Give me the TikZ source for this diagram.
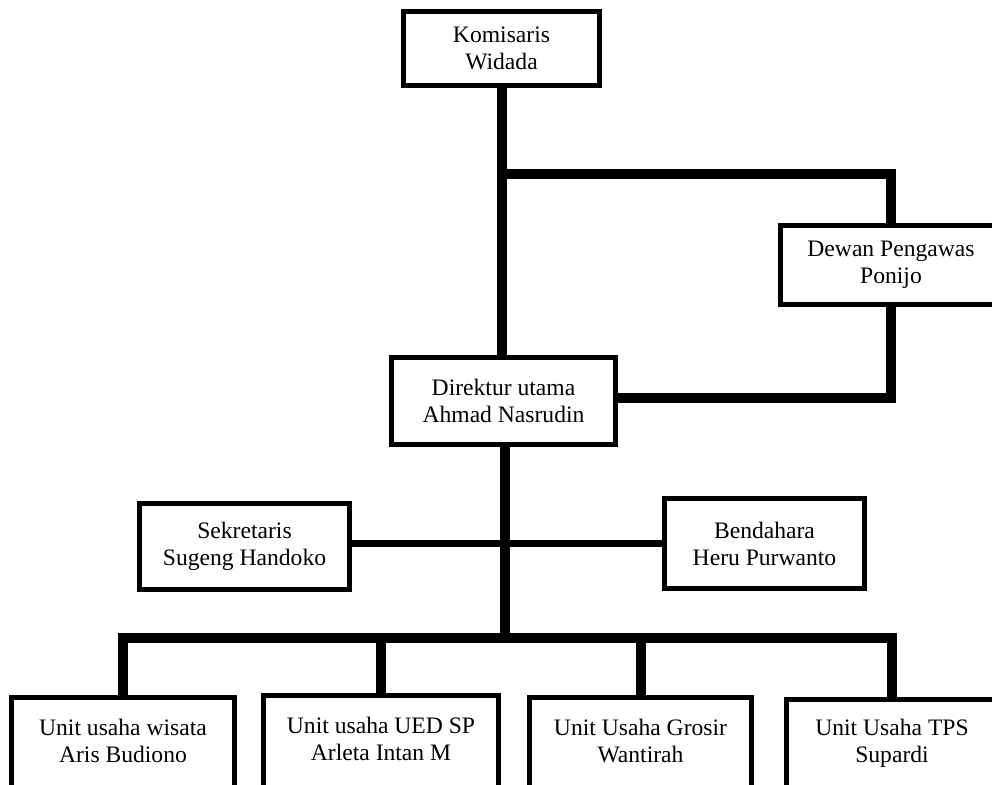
\documentclass[tikz,border=0pt]{standalone}
\usepackage{fontspec}
\setmainfont{Liberation Serif}
\begin{document}
\begin{tikzpicture}[x=0.75pt,y=-0.75pt,
  box/.style={draw, line width=4pt, fill=white, align=center,
    font=\fontsize{17.7}{20.3}\selectfont, inner sep=0pt},
  unitbox/.style={draw, line width=4pt, fill=white, inner sep=0pt,
    minimum height=83pt},
  unittext/.style={align=center, font=\fontsize{17.7}{20.3}\selectfont,
    inner sep=0pt, yshift=9pt},
  link/.style={line width=7.5pt, line join=miter},
  thinlink/.style={line width=5.8pt}]
\useasboundingbox (0,0) rectangle (992,785);
\clip (0,0) rectangle (992,785);
% boxes
\node[box, minimum width=146.8pt, minimum height=55.3pt] (kom) at (501.5,48.5) {Komisaris\\Widada};
\node[box, minimum width=165.5pt, minimum height=59pt] (dew) at (891,265) {Dewan Pengawas\\Ponijo};
\node[box, minimum width=167.8pt, minimum height=65pt] (dir) at (503.5,401) {Direktur utama\\Ahmad Nasrudin};
\node[box, minimum width=157.3pt, minimum height=64.3pt] (sek) at (244.5,546.5) {Sekretaris\\Sugeng Handoko};
\node[box, minimum width=149.8pt, minimum height=67.3pt] (ben) at (764.5,543.5) {Bendahara\\Heru Purwanto};
\node[unitbox, minimum width=167pt] (u1) at (123,753) {};
\node[unittext] (t1) at (u1.center) {Unit usaha wisata\\Aris Budiono};
\node[unitbox, minimum width=176pt] (u2) at (381,751) {};
\node[unittext] (t2) at (u2.center) {Unit usaha UED SP\\Arleta Intan M};
\node[unitbox, minimum width=166.3pt] (u3) at (640.5,753) {};
\node[unittext] (t3) at (u3.center) {Unit Usaha Grosir\\Wantirah};
\node[unitbox, minimum width=158pt] (u4) at (892,755) {};
\node[unittext] (t4) at (u4.center) {Unit Usaha TPS\\Supardi};
% junction points
\coordinate (j1) at (502,173.5);
\coordinate (j2) at (892,398);
\coordinate (j3) at (505,543.5);
\coordinate (bus) at (505,637.5);
% connectors
\draw[link] (kom.south -| j1) -- (dir.north -| j1);
\draw[link] (j1) -- (j1 -| dew.north) -- (dew.north);
\draw[link] (dew.south) -- (dew.south |- j2) -- (j2 -| dir.east);
\draw[link] (dir.south -| bus) -- (bus);
\draw[thinlink] (sek.east |- j3) -- (ben.west |- j3);
\draw[link] (u1.north) -- (u1.north |- bus) -- (u4.north |- bus) -- (u4.north);
\draw[link] (u2.north |- bus) -- (u2.north);
\draw[link] (u3.north |- bus) -- (u3.north);
\end{tikzpicture}
\end{document}
